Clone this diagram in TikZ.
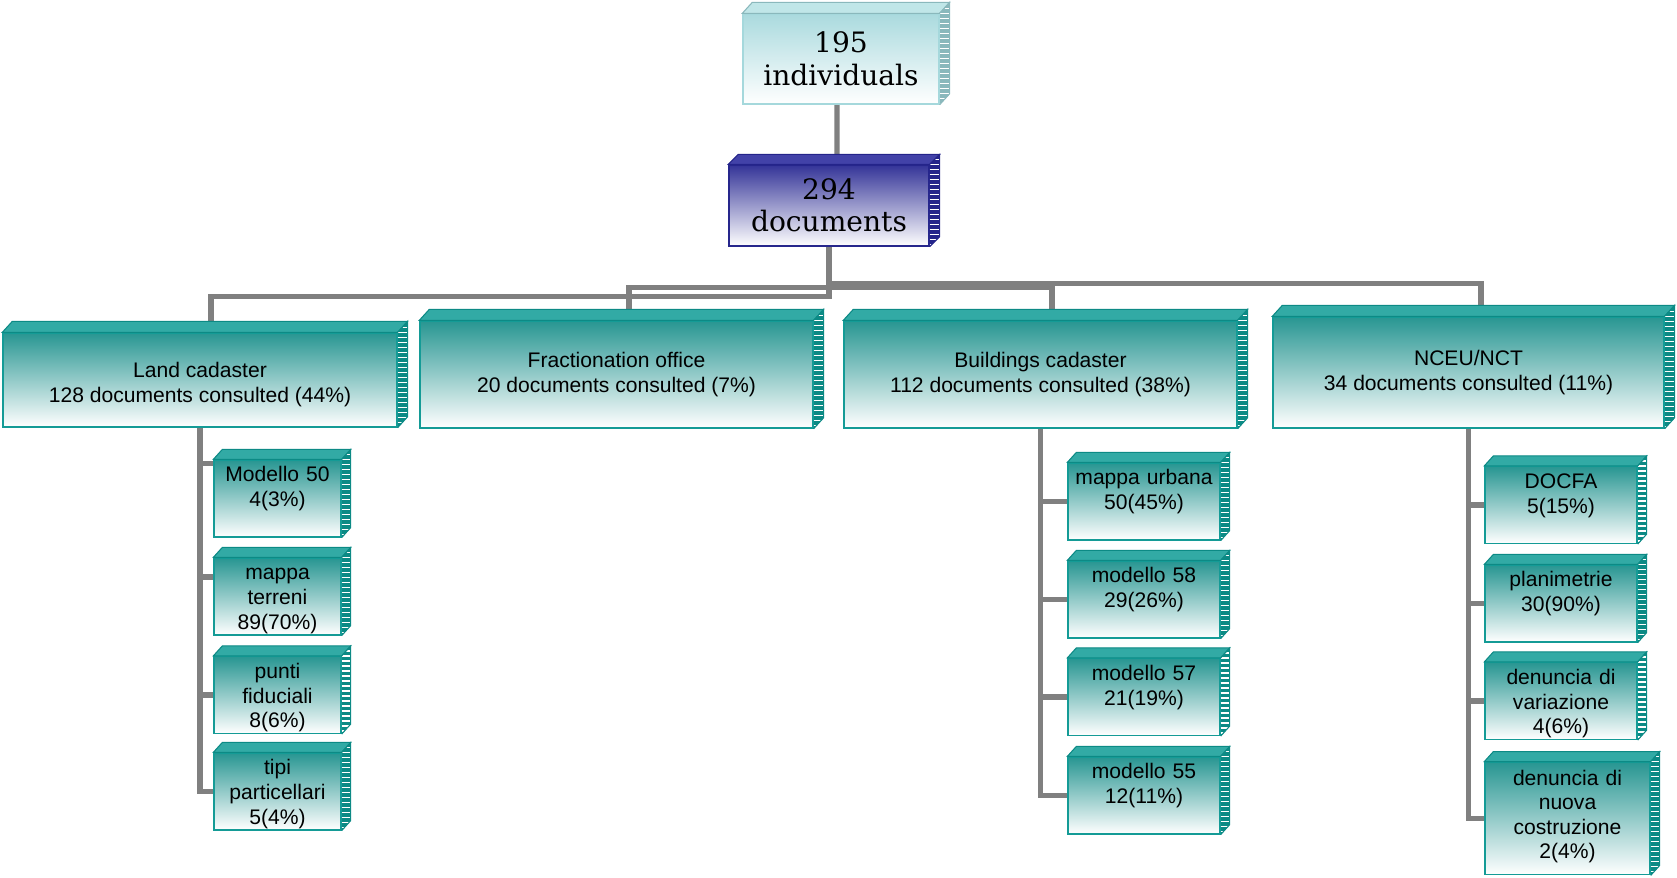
\documentclass[tikz,border=0pt]{standalone}
\usepackage{fontspec}
\setmainfont{Liberation Sans}
\newfontfamily\headfont{DejaVu Serif}
\usetikzlibrary{backgrounds,calc}

\definecolor{tealtop}{RGB}{40,150,146}
\definecolor{tealedge}{RGB}{20,155,150}
\definecolor{tealroof}{RGB}{50,170,165}
\definecolor{tealside}{RGB}{12,138,133}
\definecolor{navytop}{RGB}{52,52,152}
\definecolor{navyedge}{RGB}{38,38,140}
\definecolor{navyroof}{RGB}{66,66,168}
\definecolor{navyside}{RGB}{36,36,138}
\definecolor{icetop}{RGB}{170,218,222}
\definecolor{iceedge}{RGB}{165,216,220}
\definecolor{iceroof}{RGB}{192,230,232}
\definecolor{iceside}{RGB}{138,184,188}
\definecolor{linkgray}{RGB}{128,128,128}

% extruded top and right face of a box node
\newcommand{\slabdepth}[5]{%
  \filldraw[fill=#2, draw=#3, line width=0.6pt] (#1.north west) -- ++(#4,#5)
    -- ($(#1.north east)+(#4,#5)$) -- (#1.north east) -- cycle;
  \begin{scope}
    \clip (#1.north east) -- ++(#4,#5) -- ($(#1.south east)+(#4,#5)$)
      -- (#1.south east) -- cycle;
    \fill[#3] ($(#1.north east)+(0,#5)$) rectangle ($(#1.south east)+(#4,0)$);
    \foreach \k in {-3,...,25}
      \draw[white, line width=0.7pt] ($(#1.north east)+(0,5*\k)$) -- ++(#4,0);
  \end{scope}
  \draw[#3, line width=0.6pt] (#1.north east) -- ++(#4,#5)
    -- ($(#1.south east)+(#4,#5)$) -- (#1.south east);
}

\tikzset{
  slab/.style={draw=tealedge, line width=0.8pt, shading=axis, top color=tealtop,
    bottom color=white, inner sep=0pt, align=center,
    font=\fontsize{12}{14}\selectfont},
  group/.style={slab, minimum width=7.86cm, minimum height=#1},
  kid/.style={slab, text width=#1, text height=12.4pt, text depth=31.3pt},
  head/.style={slab, font=\headfont\fontsize{16}{18.5}\selectfont},
  link/.style={draw=linkgray, line width=3pt},
}

\begin{document}
\begin{tikzpicture}[x=0.02cm,y=-0.02cm]
\useasboundingbox (0,0) rectangle (1677,877);

% top of the tree
\node[head, top color=icetop, draw=iceedge, minimum width=3.92cm, minimum height=1.8cm]
  (indiv) at (841,59) {195\\individuals};
\node[head, top color=navytop, draw=navyedge, minimum width=4cm, minimum height=1.62cm]
  (docs) at (829,205.5) {294\\documents};

% offices
\node[group=1.88cm, minimum width=7.88cm] (land) at (200,380)
  {\rule{0pt}{14pt}Land cadaster\\128 documents consulted (44\%)};
\node[group=2.14cm] (frac) at (616.5,374.5)
  {Fractionation office\\20 documents consulted (7\%)};
\node[group=2.14cm] (build) at (1040.5,374.5)
  {Buildings cadaster\\112 documents consulted (38\%)};
\node[group=2.22cm, minimum width=7.82cm] (nceu) at (1468.5,372.5)
  {NCEU/NCT\\34 documents consulted (11\%)};

% land cadaster documents
\node[kid=2.54cm] (m50) at (277.5,498.5) {Modello 50\\4(3\%)};
\node[kid=2.54cm] (terreni) at (277.5,596.5) {mappa\\terreni\\89(70\%)};
\node[kid=2.54cm] (punti) at (277.5,695) {punti\\fiduciali\\8(6\%)};
\node[kid=2.54cm] (tipi) at (277.5,791.5) {tipi\\particellari\\5(4\%)};

% buildings cadaster documents
\node[kid=3.04cm] (urbana) at (1144,501.5) {mappa urbana\\50(45\%)};
\node[kid=3.04cm] (m58) at (1144,599.5) {modello 58\\29(26\%)};
\node[kid=3.04cm] (m57) at (1144,697) {modello 57\\21(19\%)};
\node[kid=3.04cm] (m55) at (1144,795.5) {modello 55\\12(11\%)};

% NCEU/NCT documents
\node[kid=3.04cm] (docfa) at (1561,505) {DOCFA\\5(15\%)};
\node[kid=3.04cm] (plani) at (1561,603.5) {planimetrie\\30(90\%)};
\node[kid=3.04cm] (variaz) at (1561,701) {denuncia di\\variazione\\4(6\%)};
\node[kid=3.3cm, text height=13pt, text depth=51pt] (costr) at (1567.5,818.5)
  {denuncia di\\nuova\\costruzione\\2(4\%)};

% depth faces
\slabdepth{indiv}{iceroof}{iceside}{10}{-11}
\slabdepth{docs}{navyroof}{navyside}{10}{-10}
\foreach \n in {land,frac,build,nceu}
  {\slabdepth{\n}{tealroof}{tealside}{10}{-11}}
\foreach \n in {m50,terreni,punti,tipi,urbana,m58,m57,m55,docfa,plani,variaz,costr}
  {\slabdepth{\n}{tealroof}{tealside}{9}{-10}}

% connectors
\begin{scope}[on background layer]
\draw[link] ([xshift=-0.08cm]indiv.south) -- ([xshift=0.16cm]docs.north);
\draw[link] (docs.south) -- ++(0,50) -| ([xshift=0.22cm]land.north);
\draw[link] (docs.south) -- ++(0,41) -| ([xshift=0.25cm]frac.north);
\draw[link] (docs.south) -- ++(0,41) -| ([xshift=0.23cm]build.north);
\draw[link] (docs.south) -- ++(0,37) -| ([xshift=0.25cm]nceu.north);

\draw[link] (land.south) |- ([yshift=0.7cm]m50.west);
\draw[link] (land.south) |- ([yshift=0.39cm]terreni.west);
\draw[link] (land.south) |- (punti.west);
\draw[link] (land.south) |- (tipi.west);

\foreach \k in {urbana,m58,m57,m55}
  \draw[link] (build.south) |- (\k.west);
\foreach \k in {docfa,plani,variaz,costr}
  \draw[link] (nceu.south) |- (\k.west);
\end{scope}
\end{tikzpicture}
\end{document}
